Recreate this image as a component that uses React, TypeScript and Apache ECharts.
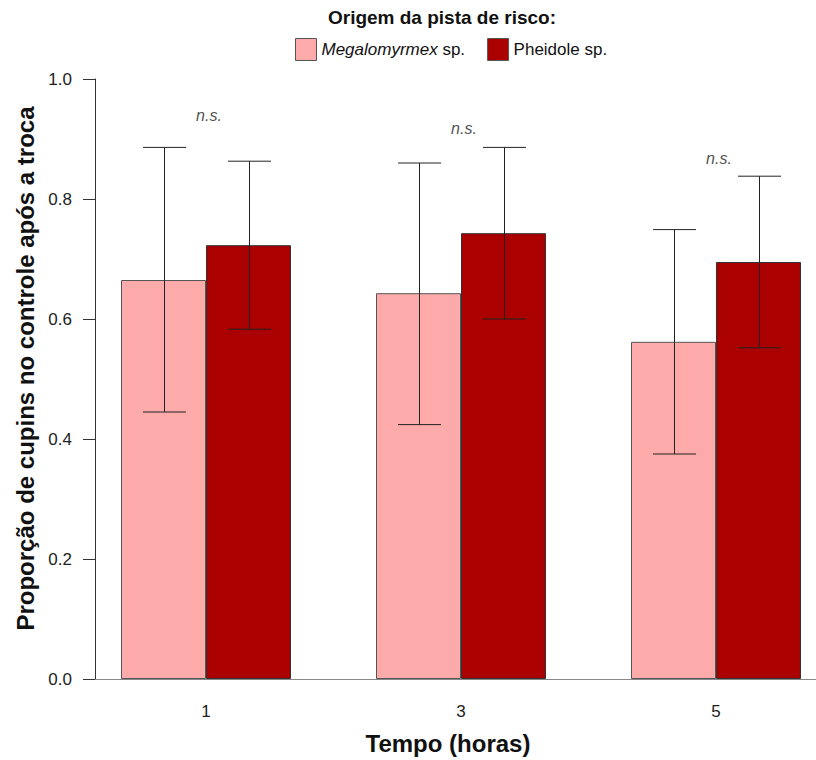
import React, { useEffect, useRef } from "react";
import * as echarts from "echarts";

const times = [1, 3, 5];
const seriesNames = ["Megalomyrmex sp.", "Pheidole sp."];
const megMean = [0.665, 0.643, 0.562];
const megLow = [0.445, 0.424, 0.375];
const megHigh = [0.886, 0.86, 0.749];
const pheMean = [0.723, 0.743, 0.695];
const pheLow = [0.583, 0.6, 0.552];
const pheHigh = [0.863, 0.886, 0.838];
const nsY = [0.94, 0.918, 0.868];
const nsText = "n.s.";
const yTicks = [0, 0.2, 0.4, 0.6, 0.8, 1.0];

const FONT = "'Liberation Sans', Arial, Helvetica, sans-serif";
const PINK = "#FDAAAA";
const RED = "#AA0000";
const BAR_W = 85;

function errSeries(low: number[], high: number[], offset: number) {
  return {
    type: "custom",
    z: 5,
    silent: true,
    data: times.map((t, i) => [t, low[i], high[i]]),
    encode: { x: 0, y: [1, 2] },
    renderItem: (params: any, api: any) => {
      const x = api.value(0);
      const pLo = api.coord([x, api.value(1)]);
      const pHi = api.coord([x, api.value(2)]);
      const cx = Math.round(pLo[0] + offset) + 0.5;
      const cap = 21.5;
      const style = { stroke: "#222", lineWidth: 1 };
      return {
        type: "group",
        children: [
          { type: "line", shape: { x1: cx, y1: pLo[1], x2: cx, y2: pHi[1] }, style },
          { type: "line", shape: { x1: cx - cap, y1: pLo[1], x2: cx + cap, y2: pLo[1] }, style },
          { type: "line", shape: { x1: cx - cap, y1: pHi[1], x2: cx + cap, y2: pHi[1] }, style },
        ],
      };
    },
  };
}

export default function App() {
  const ref = useRef<HTMLDivElement>(null);
  useEffect(() => {
    if (!ref.current) return;
    const chart = echarts.init(ref.current, null, { renderer: "svg" });
    chart.setOption({
      animation: false,
      backgroundColor: "#ffffff",
      textStyle: { fontFamily: FONT },
      graphic: [
        {
          type: "text",
          x: 442,
          y: 17,
          style: {
            text: "Origem da pista de risco:",
            font: `bold 19px ${FONT}`,
            fill: "#111",
            textAlign: "center",
            textVerticalAlign: "middle",
          },
        },
      ],
      legend: {
        data: seriesNames,
        left: 290,
        top: 33,
        itemWidth: 21,
        itemHeight: 22,
        itemGap: 22,
        icon: "rect",
        itemStyle: { borderColor: "#555", borderWidth: 1 },
        formatter: (name: string) =>
          name === "Megalomyrmex sp." ? "{i|Megalomyrmex} sp." : name,
        textStyle: {
          fontFamily: FONT,
          fontSize: 17,
          color: "#111",
          rich: { i: { fontStyle: "italic", fontSize: 17, fontFamily: FONT, color: "#111" } },
        },
      },
      grid: { left: 95, right: 0, top: 79, bottom: 81, containLabel: false },
      xAxis: {
        type: "value",
        min: 1 - 111 / 127.5,
        max: 5 + 100 / 127.5,
        splitLine: { show: false },
        axisLine: { show: true, lineStyle: { color: "#888", width: 1 } },
        axisTick: { show: false },
        axisLabel: {
          customValues: times,
          formatter: (v: number) => String(v),
          fontSize: 17,
          color: "#222",
          margin: 24,
          fontFamily: FONT,
        },
        name: "Tempo (horas)",
        nameLocation: "middle",
        nameGap: 52,
        nameTextStyle: {
          fontSize: 24,
          fontWeight: "bold",
          color: "#111",
          fontFamily: FONT,
          padding: [0, 15, 0, 0],
        },
      },
      yAxis: {
        type: "value",
        min: 0,
        max: 1,
        interval: 0.2,
        splitLine: { show: false },
        axisLine: { show: true, lineStyle: { color: "#333", width: 1 } },
        axisTick: { show: true, length: 12, lineStyle: { color: "#333" } },
        axisLabel: {
          customValues: yTicks,
          formatter: (v: number) => v.toFixed(1),
          fontSize: 17,
          color: "#222",
          margin: 23,
          fontFamily: FONT,
        },
        name: "Proporção de cupins no controle após a troca",
        nameLocation: "middle",
        nameRotate: 90,
        nameGap: 57,
        nameTextStyle: {
          fontSize: 24,
          fontWeight: "bold",
          color: "#111",
          fontFamily: FONT,
          padding: [0, 0, 0, 21],
        },
      },
      series: [
        {
          name: seriesNames[0],
          type: "bar",
          barWidth: BAR_W,
          barGap: "0%",
          data: times.map((t, i) => [t, megMean[i]]),
          itemStyle: { color: PINK, borderColor: "#555", borderWidth: 1 },
        },
        {
          name: seriesNames[1],
          type: "bar",
          barWidth: BAR_W,
          barGap: "0%",
          data: times.map((t, i) => [t, pheMean[i]]),
          itemStyle: { color: RED, borderColor: "#333", borderWidth: 1 },
        },
        errSeries(megLow, megHigh, -BAR_W / 2),
        errSeries(pheLow, pheHigh, BAR_W / 2),
        {
          type: "scatter",
          symbolSize: 0,
          silent: true,
          data: times.map((t, i) => [t, nsY[i]]),
          label: {
            show: true,
            position: "inside",
            offset: [3, 0],
            formatter: () => nsText,
            fontStyle: "italic",
            fontSize: 16,
            color: "#222",
            fontFamily: FONT,
          },
        },
      ],
    });
    return () => chart.dispose();
  }, []);
  return (
    <div
      ref={ref}
      style={{ position: "fixed", left: 0, top: 0, width: 816, height: 760 }}
    />
  );
}
